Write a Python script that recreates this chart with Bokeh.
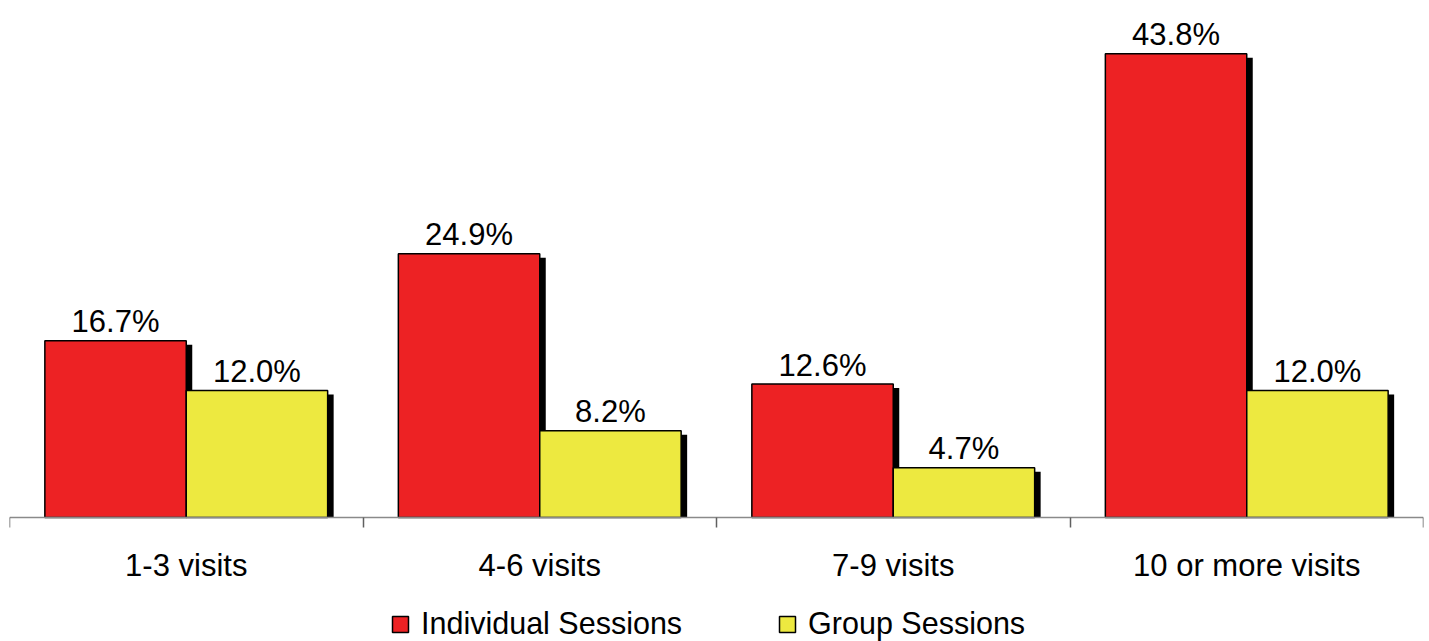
from bokeh.plotting import figure
from bokeh.models import (Range1d, FixedTicker, ColumnDataSource, Legend, LegendItem)
from bokeh.embed import file_html
from bokeh.resources import INLINE

categories = ["1-3 visits", "4-6 visits", "7-9 visits", "10 or more visits"]
individual = [16.7, 24.9, 12.6, 43.8]
group = [12.0, 8.2, 4.7, 12.0]
series_names = ["Individual Sessions", "Group Sessions"]

RED = "#ED2224"
YELLOW = "#EDE940"
FONT = "Liberation Sans"
FS = "31px"
LEG_FS = "30.5px"

PX_PER_PCT = 10.59
FRAME_H = 641
FRAME_W = 1414
BASE_PX = 517               # baseline position from top
YMAX = BASE_PX / PX_PER_PCT
YMIN = -(FRAME_H - BASE_PX) / PX_PER_PCT
n = len(categories)
px_x = n / FRAME_W                   # data units per pixel (x)
px_y = (YMAX - YMIN) / FRAME_H       # data units per pixel (y)

p = figure(frame_width=FRAME_W, frame_height=FRAME_H, output_backend="svg", toolbar_location=None,
           x_range=Range1d(0, n), y_range=Range1d(YMIN, YMAX),
           min_border_left=9, min_border_right=6, min_border_top=0, min_border_bottom=0)
p.outline_line_color = None
p.grid.visible = False
p.yaxis.visible = False
p.background_fill_color = "white"
p.border_fill_color = "white"

centers = [i + 0.5 for i in range(n)]
bw = 0.4
x_ind = [c - 0.2 for c in centers]
x_grp = [c + 0.2 for c in centers]

dx = 6 * px_x
dy = 4 * px_y

src_i = ColumnDataSource(dict(x=x_ind, top=individual,
                              sx=[x + dx for x in x_ind],
                              stop=[v - dy for v in individual],
                              lbl=[f"{v:.1f}%" for v in individual]))
src_g = ColumnDataSource(dict(x=x_grp, top=group,
                              sx=[x + dx for x in x_grp],
                              stop=[v - dy for v in group],
                              lbl=[f"{v:.1f}%" for v in group]))

p.vbar(x="sx", top="stop", bottom=0, width=bw, source=src_i, fill_color="black", line_color=None)
r_ind = p.vbar(x="x", top="top", bottom=0, width=bw, source=src_i,
               fill_color=RED, line_color="black", line_width=1.5)
p.vbar(x="sx", top="stop", bottom=0, width=bw, source=src_g, fill_color="black", line_color=None)
r_grp = p.vbar(x="x", top="top", bottom=0, width=bw, source=src_g,
               fill_color=YELLOW, line_color="black", line_width=1.5)

for src in (src_i, src_g):
    p.text(x="x", y="top", text="lbl", source=src, text_align="center",
           text_baseline="alphabetic", y_offset=-19, text_font_size=FS,
           text_font={"value": FONT}, text_color="black")

ax = p.xaxis[0]
ax.fixed_location = 0
ax.ticker = FixedTicker(ticks=centers, minor_ticks=list(range(n + 1)))
ax.major_label_overrides = {c: lab for c, lab in zip(centers, categories)}
ax.major_tick_line_color = None
ax.major_tick_out = 0
ax.major_tick_in = 0
ax.minor_tick_out = 10
ax.minor_tick_in = 0
ax.minor_tick_line_color = "#606060"
ax.minor_tick_line_width = 1.5
ax.axis_line_color = "#8a8a8a"
ax.axis_line_width = 1.5
ax.major_label_text_font = FONT
ax.major_label_text_font_size = FS
ax.major_label_text_color = "black"
ax.major_label_standoff = 20

legend = Legend(items=[LegendItem(label=series_names[0], renderers=[r_ind]),
                       LegendItem(label=series_names[1], renderers=[r_grp])],
                orientation="horizontal", location=(381, 0),
                glyph_width=20, glyph_height=20, label_standoff=11, spacing=95,
                label_text_font=FONT, label_text_font_size=LEG_FS, label_text_color="black",
                border_line_color=None, background_fill_alpha=0,
                padding=0, margin=0)
p.add_layout(legend, "center")

open("out.html", "w").write(file_html(p, INLINE))
